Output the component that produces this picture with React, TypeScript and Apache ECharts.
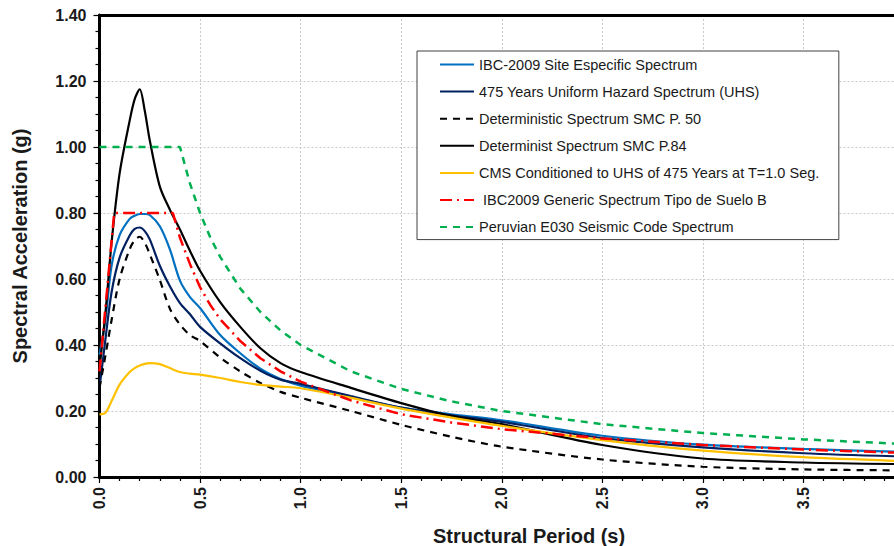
import React, { useEffect, useRef } from "react";
import * as echarts from "echarts";

// Structural period (s) shared by the computed spectra
const periods = [0, 0.03, 0.06, 0.1, 0.15, 0.175, 0.2, 0.225, 0.25, 0.3, 0.35, 0.4, 0.45, 0.5, 0.6, 0.7, 0.8, 0.9, 1.0, 1.25, 1.5, 1.75, 2.0, 2.5, 3.0, 3.5, 4.0];
const siteSpecific = [0.37, 0.48, 0.64, 0.733, 0.782, 0.792, 0.797, 0.797, 0.794, 0.76, 0.69, 0.595, 0.545, 0.512, 0.43, 0.375, 0.328, 0.297, 0.277, 0.242, 0.21, 0.19, 0.172, 0.125, 0.098, 0.085, 0.076];
const uhs475 = [0.27, 0.42, 0.56, 0.665, 0.732, 0.752, 0.756, 0.745, 0.72, 0.64, 0.578, 0.527, 0.493, 0.455, 0.405, 0.36, 0.322, 0.295, 0.282, 0.245, 0.21, 0.187, 0.167, 0.118, 0.09, 0.072, 0.062];
const detP50 = [0.27, 0.37, 0.475, 0.6, 0.69, 0.718, 0.728, 0.71, 0.675, 0.597, 0.51, 0.462, 0.43, 0.412, 0.362, 0.32, 0.285, 0.258, 0.24, 0.2, 0.158, 0.122, 0.092, 0.053, 0.031, 0.023, 0.02];
const detP84 = [0.33, 0.5, 0.71, 0.92, 1.08, 1.145, 1.175, 1.11, 1.02, 0.88, 0.81, 0.75, 0.685, 0.625, 0.53, 0.455, 0.39, 0.345, 0.318, 0.27, 0.224, 0.185, 0.16, 0.097, 0.056, 0.044, 0.039];
const cmsT1 = [0.19, 0.195, 0.23, 0.28, 0.318, 0.33, 0.338, 0.343, 0.345, 0.342, 0.33, 0.318, 0.313, 0.31, 0.3, 0.288, 0.279, 0.274, 0.269, 0.24, 0.207, 0.18, 0.155, 0.112, 0.08, 0.06, 0.048];

// Code spectra (piecewise)
const ibcPeriods = [0, 0.073, 0.365, 0.4, 0.45, 0.5, 0.55, 0.6, 0.7, 0.8, 0.9, 1.0, 1.25, 1.5, 1.75, 2.0, 2.5, 3.0, 3.5, 4.0];
const ibcGeneric = [0.32, 0.8, 0.8, 0.725, 0.645, 0.575, 0.522, 0.478, 0.412, 0.36, 0.32, 0.289, 0.232, 0.19, 0.165, 0.145, 0.117, 0.097, 0.083, 0.073];
const e030Periods = [0, 0.4, 0.45, 0.5, 0.55, 0.6, 0.7, 0.8, 0.9, 1.0, 1.25, 1.5, 1.75, 2.0, 2.5, 3.0, 3.5, 4.0];
const e030 = [1.0, 1.0, 0.889, 0.8, 0.727, 0.667, 0.571, 0.5, 0.444, 0.4, 0.32, 0.267, 0.229, 0.2, 0.16, 0.133, 0.114, 0.1];

const yTicks = { min: 0, max: 1.4, interval: 0.2 };
const xTicks = { min: 0, max: 4, interval: 0.5 };

const names = [
  "IBC-2009 Site Especific Spectrum",
  "475 Years Uniform Hazard Spectrum (UHS)",
  "Deterministic Spectrum SMC P. 50",
  "Determinist Spectrum SMC P.84",
  "CMS Conditioned to UHS of 475 Years at T=1.0 Seg.",
  " IBC2009 Generic Spectrum Tipo de Suelo B",
  "Peruvian E030 Seismic Code Spectrum",
];

const zip = (xs: number[], ys: number[]) => xs.map((x, i) => [x, ys[i]]);

const FONT = "'Liberation Sans', Arial, sans-serif";

export default function App() {
  const ref = useRef<HTMLDivElement>(null);
  useEffect(() => {
    if (!ref.current) return;
    const chart = echarts.init(ref.current, undefined, { renderer: "svg" });
    const smoothLine = (name: string, data: number[][], color: string, width: number, type: any) => ({
      name,
      type: "line",
      data,
      smooth: 0.3,
      symbol: "none",
      lineStyle: { color, width, type },
      itemStyle: { color },
    });
    const straightLine = (name: string, data: number[][], color: string, width: number, type: any) => ({
      ...smoothLine(name, data, color, width, type),
      smooth: false,
    });
    chart.setOption({
      animation: false,
      textStyle: { fontFamily: FONT },
      grid: {
        left: 99.5,
        top: 15,
        right: 6,
        bottom: 69,
        show: false,
      },
      xAxis: [
        {
          type: "value",
          ...xTicks,
          axisLine: { show: true, onZero: false, lineStyle: { color: "#000", width: 3 } },
          axisTick: { show: true, inside: false, length: 6, lineStyle: { color: "#000", width: 1.2 } },
          minorTick: { show: true, splitNumber: 5, length: 4, lineStyle: { color: "#000", width: 1.2 } },
          splitLine: { show: true, lineStyle: { color: "#c8c8c8", width: 1, type: [2, 2] } },
          axisLabel: {
            rotate: 90,
            margin: 10,
            fontSize: 16,
            fontWeight: "bold",
            color: "#1a1a1a",
            fontFamily: FONT,
            showMaxLabel: false,
            formatter: (v: number) => v.toFixed(1),
          },
        },
        {
          type: "value",
          position: "top",
          ...xTicks,
          axisLine: { show: true, onZero: false, lineStyle: { color: "#000", width: 3 } },
          axisTick: { show: false },
          axisLabel: { show: false },
          splitLine: { show: false },
        },
      ],
      yAxis: {
        type: "value",
        ...yTicks,
        axisLine: { show: true, lineStyle: { color: "#000", width: 3 } },
        axisTick: { show: true, inside: false, length: 6, lineStyle: { color: "#000", width: 1.2 } },
        minorTick: { show: true, splitNumber: 4, length: 4, lineStyle: { color: "#000", width: 1.2 } },
        splitLine: { show: true, lineStyle: { color: "#c8c8c8", width: 1, type: [2, 2] } },
        axisLabel: {
          margin: 13,
          fontSize: 16,
          fontWeight: "bold",
          color: "#1a1a1a",
          fontFamily: FONT,
          formatter: (v: number) => v.toFixed(2),
        },
      },
      legend: {
        orient: "vertical",
        left: 417,
        top: 51,
        padding: [6, 19, 5, 22],
        itemWidth: 34,
        itemHeight: 14,
        itemGap: 12.1,
        itemStyle: { opacity: 0 },
        backgroundColor: "#fff",
        borderColor: "#404040",
        borderWidth: 1,
        borderRadius: 0,
        textStyle: { fontSize: 14.5, color: "#1a1a1a", fontFamily: FONT, lineHeight: 14 },
        data: names,
      },
      graphic: [
        {
          type: "text",
          x: 20,
          y: 246,
          rotation: Math.PI / 2,
          style: {
            text: "Spectral Acceleration (g)",
            fontSize: 20,
            fontWeight: "bold",
            fontFamily: FONT,
            fill: "#1a1a1a",
            align: "center",
            verticalAlign: "middle",
          },
        },
        {
          type: "text",
          x: 529,
          y: 536,
          style: {
            text: "Structural Period (s)",
            fontSize: 20,
            fontWeight: "bold",
            fontFamily: FONT,
            fill: "#1a1a1a",
            align: "center",
            verticalAlign: "middle",
          },
        },
      ],
      series: [
        smoothLine(names[0], zip(periods, siteSpecific), "#0070C0", 2.2, "solid"),
        smoothLine(names[1], zip(periods, uhs475), "#002060", 2.2, "solid"),
        smoothLine(names[2], zip(periods, detP50), "#000000", 2.2, [7, 6]),
        smoothLine(names[3], zip(periods, detP84), "#000000", 2.2, "solid"),
        smoothLine(names[4], zip(periods, cmsT1), "#FFC000", 2.2, "solid"),
        straightLine(names[5], zip(ibcPeriods, ibcGeneric), "#FF0000", 2.5, [12, 5, 2, 5]),
        straightLine(names[6], zip(e030Periods, e030), "#00B050", 2.5, [7, 6]),
      ],
    });
    return () => chart.dispose();
  }, []);
  return (
    <div style={{ position: "fixed", left: 0, top: 0, width: 894, height: 546, overflow: "hidden", background: "#fff" }}>
      <div ref={ref} style={{ width: 910, height: 546 }} />
    </div>
  );
}
